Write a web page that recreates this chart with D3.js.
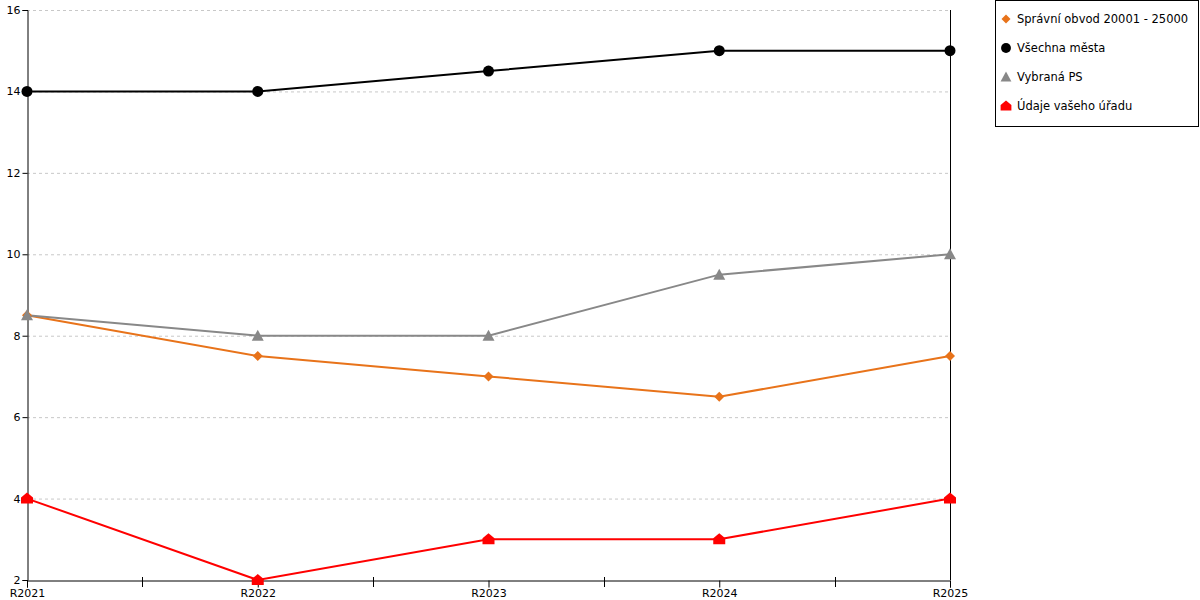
<!DOCTYPE html>
<html><head><meta charset="utf-8">
<script src="https://cdn.jsdelivr.net/npm/d3@7"></script>
<style>body{margin:0;background:#fff}svg{display:block}text{font-family:"DejaVu Sans",Verdana,sans-serif}</style>
</head><body><svg id="c" width="1200" height="600"></svg>
<script>
const categories = ["R2021","R2022","R2023","R2024","R2025"];
const seriesNames = ["Správní obvod 20001 - 25000","Všechna města","Vybraná PS","Údaje vašeho úřadu"];
const spravniObvod = [8.5,7.5,7,6.5,7.5];
const vsechnaMesta = [14,14,14.5,15,15];
const vybranaPS = [8.5,8,8,9.5,10];
const udajeUradu = [4,2,3,3,4];
const yTicks = [2,4,6,8,10,12,14,16];

const colors = ["#e8731a","#000000","#888888","#ff0000"];
const shapes = ["diamond","circle","triangle","house"];
const series = [spravniObvod, vsechnaMesta, vybranaPS, udajeUradu];

const svg = d3.select("#c");
const L=27, R=950, T=10, B=580;
const x = d3.scalePoint().domain(categories).range([L,R]);
const y = d3.scaleLinear().domain([2,16]).range([B,T]);

// gridlines
svg.append("g").selectAll("line").data(yTicks.filter(d=>d>2)).join("line")
  .attr("x1",L).attr("x2",R).attr("y1",d=>y(d)+0.5).attr("y2",d=>y(d)+0.5)
  .attr("stroke","#c8c8c8").attr("stroke-dasharray","3,3");

// y axis
const yAxis = svg.append("g").attr("transform",`translate(${L+0.5},0)`)
  .call(d3.axisLeft(y).tickValues(yTicks).tickSize(5).tickPadding(2).tickFormat(d3.format("d")));
yAxis.select(".domain").attr("stroke","#000");
yAxis.selectAll("text").attr("font-size","11px").attr("font-family","DejaVu Sans").attr("fill","#000");
// right line
svg.append("line").attr("x1",R+0.5).attr("x2",R+0.5).attr("y1",T).attr("y2",B).attr("stroke","#000");

// x axis
const xAxis = svg.append("g").attr("transform",`translate(0,${B+0.5})`)
  .call(d3.axisBottom(x).tickSize(7).tickPadding(2));
xAxis.select(".domain").attr("stroke","#000");
xAxis.selectAll("text").attr("font-size","11px").attr("font-family","DejaVu Sans").attr("fill","#000");
// mid ticks
const mids = categories.slice(1).map((c,i)=>(x(categories[i])+x(c))/2);
svg.append("g").selectAll("line").data(mids).join("line")
  .attr("x1",d=>Math.round(d)+0.5).attr("x2",d=>Math.round(d)+0.5).attr("y1",B-3).attr("y2",B+7).attr("stroke","#000");

function marker(g, shape, color){
  if(shape==="circle") g.append("circle").attr("r",5.5).attr("fill",color);
  else if(shape==="diamond") g.append("path").attr("d","M0,-5L5,0L0,5L-5,0Z").attr("fill",color);
  else if(shape==="triangle") g.append("path").attr("d","M0,-6L6,5L-6,5Z").attr("fill",color);
  else g.append("path").attr("d","M0,-6L6,-1L6,5L-6,5L-6,-1Z").attr("fill",color);
}

const line = d3.line().x((d,i)=>x(categories[i])).y(d=>y(d));
series.forEach((s,k)=>{
  svg.append("path").datum(s).attr("d",line).attr("fill","none")
    .attr("stroke",colors[k]).attr("stroke-width",2);
});
series.forEach((s,k)=>{
  s.forEach((v,i)=>{
    const g = svg.append("g").attr("transform",`translate(${x(categories[i])},${y(v)})`);
    marker(g, shapes[k], colors[k]);
  });
});

// legend
const lg = svg.append("g");
lg.append("rect").attr("x",995.5).attr("y",0.5).attr("width",203).attr("height",126)
  .attr("fill","#fff").attr("stroke","#000");
seriesNames.forEach((n,k)=>{
  const yy = 19 + k*29;
  const g = lg.append("g").attr("transform",`translate(1006,${yy})`);
  marker(g.append("g").attr("transform","scale(0.9)"), shapes[k], colors[k]);
  lg.append("text").attr("x",1017).attr("y",yy).attr("dy","0.35em")
    .attr("font-size","11.5px").attr("fill","#000").text(n);
});
</script></body></html>
